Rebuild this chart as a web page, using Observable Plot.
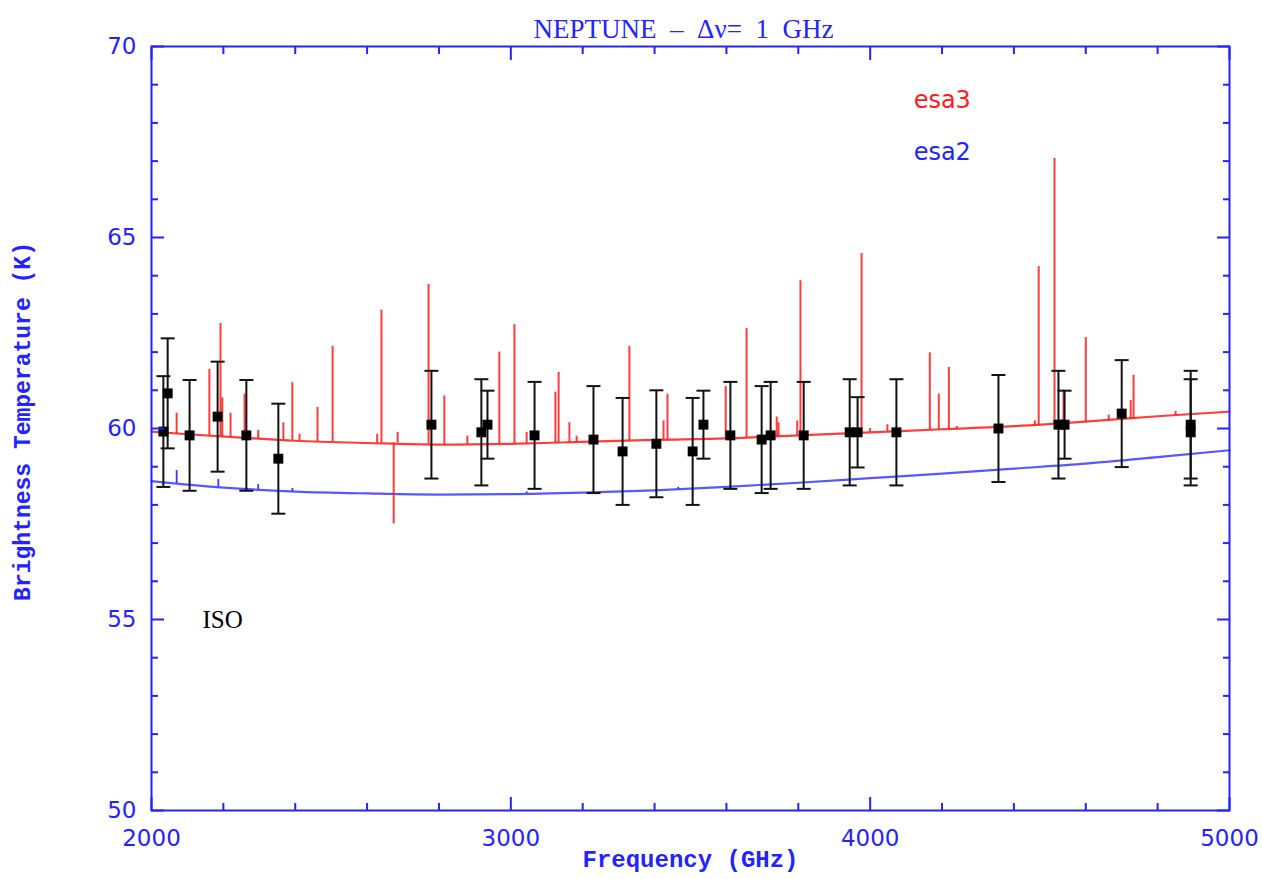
<!DOCTYPE html>
<html>
<head>
<meta charset="utf-8">
<script src="https://cdn.jsdelivr.net/npm/d3@7"></script>
<script src="https://cdn.jsdelivr.net/npm/@observablehq/plot@0.6"></script>
<style>html,body{margin:0;padding:0;background:#fff;}</style>
</head>
<body>
<div id="chart"></div>
<script>
// ISO measurements: frequency (GHz), brightness temperature (K), error (K)
const isoFreq = [2033, 2045, 2106, 2184, 2264, 2353, 2779, 2918, 2935, 3066, 3230, 3311, 3405, 3506, 3536, 3611, 3698, 3723, 3815, 3943, 3965, 4073, 4357, 4524, 4541, 4700, 4892, 4892];
const isoTemp = [59.92, 60.92, 59.82, 60.31, 59.82, 59.21, 60.10, 59.90, 60.10, 59.82, 59.71, 59.40, 59.60, 59.40, 60.10, 59.82, 59.71, 59.82, 59.82, 59.90, 59.90, 59.90, 60.00, 60.10, 60.10, 60.39, 60.10, 59.90];
const isoErr  = [1.45, 1.44, 1.45, 1.44, 1.45, 1.44, 1.41, 1.39, 0.89, 1.40, 1.40, 1.40, 1.40, 1.40, 0.89, 1.40, 1.40, 1.40, 1.40, 1.39, 0.92, 1.39, 1.40, 1.41, 0.89, 1.40, 1.41, 1.39];

// esa3 model continuum
const esa3Freq = [2000, 2100, 2250, 2400, 2600, 2800, 3000, 3200, 3400, 3600, 3800, 4000, 4200, 4400, 4600, 4800, 5000];
const esa3Temp = [59.92, 59.85, 59.76, 59.68, 59.62, 59.58, 59.60, 59.65, 59.70, 59.74, 59.82, 59.90, 59.98, 60.06, 60.18, 60.32, 60.44];
// esa3 spectral lines: frequency, base and peak temperature
const esa3LineFreq = [2070, 2161, 2192, 2197, 2220, 2259, 2297, 2367, 2392, 2412, 2462, 2504, 2628, 2640, 2674, 2685, 2771, 2815, 2879, 2968, 3010, 3044, 3124, 3133, 3163, 3183, 3330, 3425, 3436, 3598, 3656, 3740, 3745, 3797, 3806, 3976, 4000, 4048, 4166, 4191, 4219, 4241, 4458, 4469, 4513, 4538, 4600, 4664, 4725, 4733, 4850];
const esa3LineBase = [59.86, 59.80, 59.78, 59.78, 59.77, 59.76, 59.72, 59.70, 59.69, 59.68, 59.66, 59.65, 59.62, 59.62, 59.62, 59.62, 59.60, 59.58, 59.58, 59.59, 59.60, 59.60, 59.62, 59.62, 59.63, 59.63, 59.68, 59.70, 59.70, 59.74, 59.76, 59.79, 59.79, 59.81, 59.82, 59.89, 59.90, 59.92, 59.96, 59.97, 59.98, 59.99, 60.07, 60.08, 60.10, 60.12, 60.16, 60.20, 60.24, 60.25, 60.34];
const esa3LineTop  = [60.40, 61.55, 62.75, 60.80, 60.40, 60.90, 59.95, 60.15, 61.20, 59.85, 60.55, 62.15, 59.85, 63.10, 57.50, 59.90, 63.77, 60.85, 59.80, 62.00, 62.72, 59.90, 60.95, 61.47, 60.15, 59.80, 62.15, 60.20, 60.90, 61.10, 62.62, 60.30, 60.15, 60.20, 63.87, 64.58, 60.00, 60.10, 61.98, 60.90, 61.60, 60.05, 60.20, 64.24, 67.07, 61.00, 62.38, 60.35, 60.73, 61.39, 60.45];

// esa2 model continuum
const esa2Freq = [2000, 2200, 2400, 2600, 2800, 3000, 3200, 3400, 3600, 3800, 4000, 4200, 4400, 4600, 4800, 5000];
const esa2Temp = [58.62, 58.45, 58.35, 58.30, 58.27, 58.28, 58.32, 58.38, 58.47, 58.58, 58.70, 58.82, 58.95, 59.08, 59.25, 59.43];
const esa2LineFreq = [2070, 2186, 2297, 2392, 3044, 3466];
const esa2LineBase = [58.56, 58.47, 58.40, 58.35, 58.28, 58.40];
const esa2LineTop  = [58.90, 58.67, 58.53, 58.43, 58.34, 58.46];

// axes ticks
const xMajor = [2000, 3000, 4000, 5000];
const xMinor = [2200, 2400, 2600, 2800, 3200, 3400, 3600, 3800, 4200, 4400, 4600, 4800];
const yMajor = [50, 55, 60, 65, 70];
const yMinor = [51, 52, 53, 54, 56, 57, 58, 59, 61, 62, 63, 64, 66, 67, 68, 69];

// texts
const titleText = "NEPTUNE\u00a0 \u2013\u00a0 \u0394\u03bd=\u00a0 1\u00a0 GHz";
const xLabel = "Frequency (GHz)";
const yLabel = "Brightness Temperature (K)";
const labels = [
  {f: 4121, t: 68.38, text: "esa3", series: "esa3"},
  {f: 4121, t: 67.02, text: "esa2", series: "esa2"}
];
const isoLabel = [{f: 2142, t: 54.79, text: "ISO"}];

const BLUE = "#2323ff";
const RED = "#ff1a1a";
const LBLUE = "#3a3aff";

const iso = isoFreq.map((f, i) => ({f, t: isoTemp[i], lo: isoTemp[i] - isoErr[i], hi: isoTemp[i] + isoErr[i]}));
const esa3 = esa3Freq.map((f, i) => ({f, t: esa3Temp[i]}));
const esa2 = esa2Freq.map((f, i) => ({f, t: esa2Temp[i]}));
const esa3Lines = esa3LineFreq.map((f, i) => ({f, b: esa3LineBase[i], top: esa3LineTop[i]}));
const esa2Lines = esa2LineFreq.map((f, i) => ({f, b: esa2LineBase[i], top: esa2LineTop[i]}));

const capSymbol = {draw(ctx) { ctx.moveTo(-7, 0); ctx.lineTo(7, 0); }};

const chart = Plot.plot({
  width: 1262,
  height: 879,
  marginLeft: 151,
  marginRight: 33,
  marginTop: 46,
  marginBottom: 69,
  x: {domain: [2000, 5000]},
  y: {domain: [50, 70]},
  style: {fontFamily: "DejaVu Sans", fontSize: "23px", color: BLUE, background: "white", overflow: "visible"},
  marks: [
    // models
    Plot.line(esa2, {x: "f", y: "t", stroke: LBLUE, strokeWidth: 2.2, curve: "monotone-x", strokeOpacity: 0.85}),
    Plot.ruleX(esa2Lines, {x: "f", y1: "b", y2: "top", stroke: LBLUE, strokeWidth: 1.8}),
    Plot.line(esa3, {x: "f", y: "t", stroke: RED, strokeWidth: 2.2, curve: "monotone-x", strokeOpacity: 0.85}),
    Plot.ruleX(esa3Lines, {x: "f", y1: "b", y2: "top", stroke: RED, strokeWidth: 2, strokeOpacity: 0.85}),
    // ISO data
    Plot.ruleX(iso, {x: "f", y1: "lo", y2: "hi", stroke: "#111", strokeWidth: 2}),
    Plot.dot(iso, {x: "f", y: "lo", symbol: capSymbol, stroke: "#111", strokeWidth: 2, fill: "none"}),
    Plot.dot(iso, {x: "f", y: "hi", symbol: capSymbol, stroke: "#111", strokeWidth: 2, fill: "none"}),
    Plot.dot(iso, {x: "f", y: "t", symbol: "square", r: 5.6, fill: "black", stroke: "none"}),
    // frame and ticks
    Plot.frame({stroke: BLUE, strokeWidth: 2}),
    Plot.axisX(xMajor, {anchor: "bottom", tickSize: -13, fill: "none", label: null, strokeWidth: 2}),
    Plot.axisX(xMinor, {anchor: "bottom", tickSize: -7, fill: "none", label: null, strokeWidth: 2}),
    Plot.axisX(xMajor, {anchor: "top", tickSize: -13, fill: "none", label: null, strokeWidth: 2}),
    Plot.axisX(xMinor, {anchor: "top", tickSize: -7, fill: "none", label: null, strokeWidth: 2}),
    Plot.axisY(yMajor, {anchor: "left", tickSize: -13, fill: "none", label: null, strokeWidth: 2}),
    Plot.axisY(yMinor, {anchor: "left", tickSize: -7, fill: "none", label: null, strokeWidth: 2}),
    Plot.axisY(yMajor, {anchor: "right", tickSize: -13, fill: "none", label: null, strokeWidth: 2}),
    Plot.axisY(yMinor, {anchor: "right", tickSize: -7, fill: "none", label: null, strokeWidth: 2}),
    Plot.axisX(xMajor, {anchor: "bottom", tickSize: 0, tickPadding: 19, label: null, tickFormat: d => String(d), fill: BLUE, fontSize: 23}),
    Plot.axisY(yMajor, {anchor: "left", tickSize: 0, tickPadding: 15, label: null, tickFormat: d => String(d), fill: BLUE, fontSize: 23}),
    // titles
    Plot.text([titleText], {frameAnchor: "top", dx: -7, dy: -28, text: d => d, fill: BLUE, fontFamily: "Liberation Serif", fontSize: 27}),
    Plot.text([xLabel], {frameAnchor: "bottom", dy: 56, text: d => d, fill: BLUE, fontFamily: "Liberation Mono", fontWeight: "bold", fontSize: 24}),
    Plot.text([yLabel], {frameAnchor: "left", textAnchor: "middle", dx: -129, dy: -7, rotate: -90, text: d => d, fill: BLUE, fontFamily: "Liberation Mono", fontWeight: "bold", fontSize: 23}),
    // series labels
    Plot.text(labels, {x: "f", y: "t", text: "text", fill: d => d.series === "esa3" ? RED : BLUE, textAnchor: "start", lineAnchor: "bottom", fontSize: 24}),
    Plot.text(isoLabel, {x: "f", y: "t", text: "text", fill: "black", textAnchor: "start", lineAnchor: "bottom", fontFamily: "Liberation Serif", fontSize: 25})
  ]
});
document.getElementById("chart").appendChild(chart);
</script>
</body>
</html>
